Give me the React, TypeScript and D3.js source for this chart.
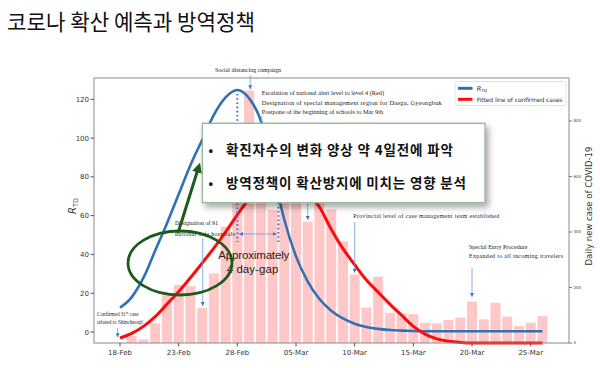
import { line, range, scaleLinear, curveMonotoneX } from 'd3';

// daily new cases (right axis), one per day from 18-Feb
const dailyCases = [
  1, 25, 13, 71, 179, 209, 205, 127, 251, 419, 570, 910, 590, 480, 600, 520, 437,
  515, 481, 367, 247, 128, 239, 109, 107, 104, 73, 71, 83, 91, 149, 85, 145, 95,
  61, 73, 97,
];

// R_TD (left axis)
const rtdValues = [
  12.5, 18, 28, 42, 56, 71, 86, 99, 112, 121, 124.8, 120.5, 109, 84, 58, 39, 26,
  17, 11, 7, 4.3, 2.6, 1.6, 1.0, 0.7, 0.5, 0.4, 0.4, 0.4, 0.4, 0.4, 0.4, 0.4, 0.4,
  0.4, 0.4, 0.4,
];

// fitted line of confirmed cases (right axis)
const fittedCases = [
  18, 35, 60, 95, 140, 185, 235, 288, 342, 400, 462, 520, 565, 592, 598, 580, 540,
  490, 410, 340, 282, 227, 183, 140, 100, 60, 32, 15, 6, 2, 0, 0, 0, 0, 0, 0, 0,
];

const xTickLabels = ['18-Feb', '23-Feb', '28-Feb', '05-Mar', '10-Mar', '15-Mar', '20-Mar', '25-Mar'];
const leftTicks = [0, 20, 40, 60, 80, 100, 120];
const rightTicks = [0, 200, 400, 600, 800];

const serif = '"Liberation Serif", "DejaVu Serif", serif';
const sans = '"DejaVu Sans", sans-serif';
const kr = '"Noto Sans CJK KR", sans-serif';

export default function App() {
  const width = 600;
  const height = 368;
  const frame = { left: 94, right: 569, top: 78, bottom: 343 };

  const x = scaleLinear().domain([0, 35]).range([120, 530.7]);
  const yL = scaleLinear().domain([0, 120]).range([332, 99.3]);
  const yR = scaleLinear().domain([0, 800]).range([343, 121]);
  const barW = 10;
  const idx = range(dailyCases.length);

  const rtdLine = line<number>()
    .x((i) => x(i))
    .y((i) => yL(rtdValues[i]))
    .curve(curveMonotoneX);
  const fitLine = line<number>()
    .x((i) => x(i))
    .y((i) => yR(fittedCases[i]))
    .curve(curveMonotoneX);

  const arrowColor = '#6f9be0';

  return (
    <div style={{ position: 'absolute', left: 0, top: 0 }}>
      <svg width={width} height={height} viewBox={`0 0 ${width} ${height}`}>
        <defs>
          <marker id="ah" viewBox="0 0 6 6" refX={5.5} refY={3} markerWidth={4} markerHeight={4} markerUnits="userSpaceOnUse" orient="auto-start-reverse">
            <path d="M0,0 L6,3 L0,6 z" fill="#3f74d0" />
          </marker>
          <marker id="gh" viewBox="0 0 6 6" refX={4} refY={3} markerWidth={10} markerHeight={10} markerUnits="userSpaceOnUse" orient="auto">
            <path d="M0,0 L6,3 L0,6 z" fill="#1d5c1f" />
          </marker>
          <filter id="shadow" x="-10%" y="-20%" width="130%" height="160%">
            <feDropShadow dx={3} dy={4} stdDeviation={3} floodColor="#000" floodOpacity={0.35} />
          </filter>
        </defs>
        <rect width={width} height={height} fill="#fff" />

        <text x={7} y={30} fontFamily={kr} fontSize={22} fill="#111" textLength={248} lengthAdjust="spacingAndGlyphs">
          코로나 확산 예측과 방역정책
        </text>

        {/* bars */}
        {idx.map((i) => (
          <rect
            key={i}
            x={x(i) - barW / 2}
            y={yR(dailyCases[i])}
            width={barW}
            height={yR(0) - yR(dailyCases[i])}
            fill="#ffc7c7"
          />
        ))}

        <path d={rtdLine(idx) || ''} fill="none" stroke="#2f72b3" strokeWidth={2.6} />
        <path d={fitLine(idx) || ''} fill="none" stroke="#ff0a0a" strokeWidth={3} />

        {/* frame */}
        <rect
          x={frame.left}
          y={frame.top}
          width={frame.right - frame.left}
          height={frame.bottom - frame.top}
          fill="none"
          stroke="#8a8a8a"
          strokeWidth={1}
        />

        {/* left axis */}
        {leftTicks.map((t) => (
          <g key={t}>
            <line x1={frame.left - 3.5} x2={frame.left} y1={yL(t)} y2={yL(t)} stroke="#555" />
            <text x={frame.left - 5} y={yL(t) + 2.5} textAnchor="end" fontFamily={sans} fontSize={7} fill="#333">
              {t}
            </text>
          </g>
        ))}
        <text transform="translate(76,206) rotate(-90)" textAnchor="middle" fontFamily={sans} fontSize={10} fill="#333">
          <tspan fontStyle="italic">R</tspan>
          <tspan fontSize={6.5} dy={2}>TD</tspan>
        </text>

        {/* right axis */}
        {rightTicks.map((t) => (
          <g key={t}>
            <line x1={frame.right} x2={frame.right + 3} y1={yR(t)} y2={yR(t)} stroke="#555" strokeWidth={0.8} />
            <text x={frame.right + 4.5} y={yR(t) + 1.4} fontFamily={sans} fontSize={4} fill="#444">
              {t}
            </text>
          </g>
        ))}
        <text transform="translate(592,206) rotate(-90)" textAnchor="middle" fontFamily={sans} fontSize={8.5} fill="#333">
          Daily new case of COVID-19
        </text>

        {/* bottom axis */}
        {xTickLabels.map((label, k) => (
          <g key={label}>
            <line x1={x(k * 5)} x2={x(k * 5)} y1={frame.bottom} y2={frame.bottom + 3.5} stroke="#555" />
            <text x={x(k * 5)} y={355} textAnchor="middle" fontFamily={sans} fontSize={7} fill="#333">
              {label}
            </text>
          </g>
        ))}

        {/* peak markers */}
        <line x1={x(10)} x2={x(10)} y1={yL(rtdValues[10]) + 4} y2={242} stroke="#3f74d0" strokeWidth={2} strokeDasharray="1.6 2.6" />
        <line x1={x(13.5)} x2={x(13.5)} y1={190} y2={242} stroke="#3f74d0" strokeWidth={2} strokeDasharray="1.6 2.6" />
        <line x1={x(10) + 2} x2={x(13.5) - 2} y1={234} y2={234} stroke={arrowColor} strokeWidth={0.8} markerEnd="url(#ah)" markerStart="url(#ah)" />

        {/* annotations */}
        <g fontFamily={serif} fill="#222">
          <text x={248} y={71.7} textAnchor="middle" fontSize={6}>Social distancing campaign</text>
          <text x={261.7} y={95.3} fontSize={6.3}>Escalation of national alert level to level 4 (Red)</text>
          <text x={261.7} y={104.6} fontSize={6.3} textLength={180}>Designation of special management region for Daegu, Gyeongbuk</text>
          <text x={261.7} y={113.8} fontSize={6.3}>Postpone of the beginning of schools to Mar 9th</text>

          <text x={97} y={315.5} fontSize={5.2}>
            Confirmed 31<tspan fontSize={3.5} dy={-2}>st</tspan>
            <tspan dy={2}> case</tspan>
          </text>
          <text x={97} y={324.3} fontSize={5.2} textLength={46}>related to Shincheonji</text>

          <text x={175} y={224.5} fontSize={6}>Designation of 91</text>
          <text x={175} y={236} fontSize={6} textLength={60}>national safe hospitals</text>

          <text x={353.3} y={217.7} fontSize={6} textLength={146}>Provincial level of case management team established</text>
          <text x={469} y={249.3} fontSize={6}>Special Entry Procedure</text>
          <text x={469} y={258.3} fontSize={6} textLength={94}>Expanded to all incoming travelers</text>
        </g>
        <g stroke={arrowColor} strokeWidth={0.8}>
          <line x1={x(11.1)} x2={x(11.1)} y1={75} y2={89} markerEnd="url(#ah)" />
          <line x1={261.7} x2={261.7} y1={116} y2={132} />
          <line x1={x(-0.2)} x2={x(-0.2)} y1={328} y2={337} markerEnd="url(#ah)" />
          <line x1={202.7} x2={202.7} y1={238} y2={yR(dailyCases[7]) - 2} markerEnd="url(#ah)" />
          <line x1={x(16)} x2={x(16)} y1={203} y2={yR(dailyCases[16]) - 2} markerEnd="url(#ah)" />
          <line x1={x(20)} x2={x(20)} y1={222} y2={yR(dailyCases[20]) - 2} markerEnd="url(#ah)" />
          <line x1={x(30)} x2={x(30)} y1={268} y2={yR(dailyCases[30]) - 5} markerEnd="url(#ah)" />
        </g>

        {/* gap note */}
        <g fontFamily={'"Liberation Sans", Arial, sans-serif'} fill="#222" fontSize={11.5}>
          <text x={218.3} y={259} textLength={71}>Approximately</text>
          <text x={226.7} y={273.3} textLength={51.6}>4 day-gap</text>
        </g>

        <ellipse cx={180} cy={263} rx={52} ry={32} fill="none" stroke="#1e5a1e" strokeWidth={2.8} />

        {/* legend */}
        <rect x={455} y={81.5} width={111} height={24} fill="#fff" stroke="#dcdcdc" strokeWidth={0.8} rx={2} />
        <line x1={458} x2={472.5} y1={88.3} y2={88.3} stroke="#2f72b3" strokeWidth={3} />
        <line x1={458} x2={472.5} y1={99.3} y2={99.3} stroke="#ff0a0a" strokeWidth={3} />
        <text x={476.7} y={90.6} fontFamily={sans} fontSize={6.5} fill="#333">
          <tspan fontStyle="italic">R</tspan>
          <tspan fontSize={4.3} dy={1.5}>TD</tspan>
        </text>
        <text x={476.7} y={101.6} fontFamily={sans} fontSize={6} fill="#333" textLength={86}>
          Fitted line of confirmed cases
        </text>

        {/* summary box */}
        <rect x={202.3} y={123.3} width={282.7} height={79.4} fill="#fff" stroke="#8db08d" strokeWidth={1.2} filter="url(#shadow)" />
        <g fontFamily={kr} fontWeight={700} fill="#111">
          <text x={208.5} y={155} fontSize={12}>•</text>
          <text x={226} y={155} fontSize={13.5} textLength={227}>확진자수의 변화 양상 약 4일전에 파악</text>
          <text x={208.5} y={188} fontSize={12}>•</text>
          <text x={226} y={188} fontSize={13.5} textLength={240}>방역정책이 확산방지에 미치는 영향 분석</text>
        </g>

        <line x1={178} y1={233} x2={199} y2={166} stroke="#1d5c1f" strokeWidth={3} markerEnd="url(#gh)" />
      </svg>
    </div>
  );
}
